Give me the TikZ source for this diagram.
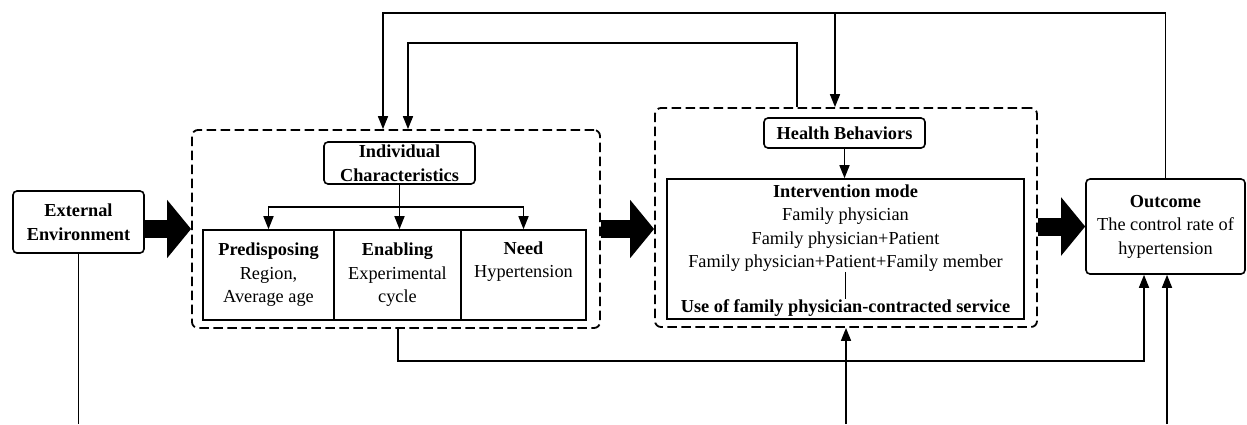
\documentclass[tikz,border=0pt]{standalone}
\usepackage{fontspec}
\setmainfont{Liberation Serif}
\usetikzlibrary{arrows.meta,calc}
\begin{document}
\begin{tikzpicture}[x=1pt,y=-1pt,
  every node/.style={font=\fontsize{18.3}{23.5}\selectfont},
  rbox/.style={draw, line width=1.6pt, rounded corners=4pt, inner sep=0pt, align=center},
  sbox/.style={draw, line width=1.6pt, inner sep=0pt, align=center},
  dbox/.style={draw, line width=1.8pt, dash pattern=on 9.5pt off 4.5pt, rounded corners=6pt, inner sep=0pt},
  txt/.style={inner sep=0pt, align=center},
  conn/.style={line width=1.6pt, -{Triangle[length=13pt,width=10pt]}},
  plain/.style={line width=1.6pt},
  bigarrow/.style={line width=18pt, -{Triangle[length=24pt,width=57pt]}},
]
\fill[white] (0,0) rectangle (1247,424);
\useasboundingbox (0,0) rectangle (1247,424);

% boxes
\node[rbox, minimum width=131pt, minimum height=62pt] (ext) at (78.5,222) {\textbf{External}\\\textbf{Environment}};
\node[dbox, minimum width=408pt, minimum height=198pt] (lbox) at (396,229) {};
\node[dbox, minimum width=382pt, minimum height=219pt] (rbox) at (846,217.5) {};
\node[rbox, minimum width=151pt, minimum height=42pt] (ic) at (399.5,163) {\textbf{Individual}\\\textbf{Characteristics}};
\node[sbox, minimum width=131pt, minimum height=90pt] (pre) at (268.5,275) {\textbf{Predisposing}\\Region,\\Average age};
\node[sbox, minimum width=127pt, minimum height=90pt] (en) at (397.5,275) {\textbf{Enabling}\\Experimental\\cycle};
\node[sbox, minimum width=125pt, minimum height=90pt] (need) at (523.5,275) {\textbf{Need}\\Hypertension\\\strut};
\node[rbox, minimum width=161pt, minimum height=30pt] (hb) at (844.5,133) {\textbf{Health Behaviors}};
\node[sbox, minimum width=357pt, minimum height=140pt] (ib) at (845.5,249) {};
\node[txt] (im) at (845.5,228) {\textbf{Intervention mode}\\Family physician\\Family physician+Patient\\Family physician+Patient+Family member};
\node[txt] (use) at (845.5,308) {\textbf{Use of family physician-contracted service}};
\node[rbox, minimum width=159pt, minimum height=95pt] (out) at (1165.5,226.5) {\textbf{Outcome}\\The control rate of\\hypertension};

% coordinates for bends and free ends
\coordinate (t1) at (383,13);
\coordinate (t2) at (835,13);
\coordinate (s1) at (797,43);
\coordinate (s2) at (408,43);
\coordinate (br) at (399.5,207);
\coordinate (l1) at (398,361);
\coordinate (l2) at (1144,361);
\coordinate (bext) at (78.5,424);
\coordinate (bmid) at (846,424);
\coordinate (bout) at (1167,424);

% big arrows
\draw[bigarrow] (ext.east |- lbox.west) -- (lbox.west);
\draw[bigarrow] (lbox.east) -- (lbox.east -| rbox.west);
\draw[bigarrow] (rbox.east |- out.west) -- (out.west);

% connectors
\draw[conn] (out.north) |- (t1) -- (t1 |- lbox.north);
\draw[conn] (t2) -- (t2 |- rbox.north);
\draw[conn] (s1 |- rbox.north) -- (s1) -- (s2) -- (s2 |- lbox.north);
\draw[conn] (ic.south) -- (br) -| (pre.north);
\draw[conn] (br) -| (need.north);
\draw[conn] (ic.south) -- (ic.south |- en.north);
\draw[conn] (hb.south) -- (hb.south |- ib.north);
\draw[plain] (im.south) -- (use.north);
\draw[plain] (ext.south) -- (bext);
\draw[conn] (bmid) -- (bmid |- rbox.south);
\draw[conn] (bout) -- (bout |- out.south);
\draw[conn] (l1 |- lbox.south) -- (l1) -- (l2) -- (l2 |- out.south);
\end{tikzpicture}
\end{document}
